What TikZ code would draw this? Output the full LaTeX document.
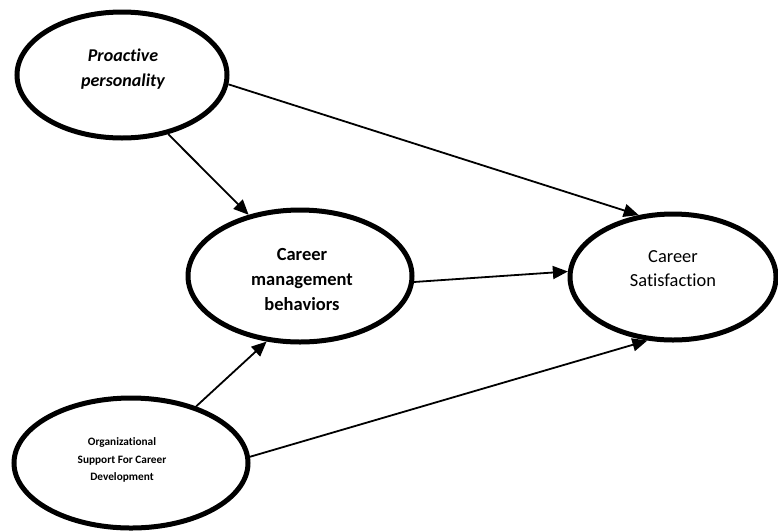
\documentclass[tikz,border=0pt]{standalone}
\usepackage{fontspec}
\setmainfont{Carlito}[Ligatures=NoCommon]
\usetikzlibrary{arrows.meta,shapes.geometric}
\begin{document}
\begin{tikzpicture}[x=1pt,y=-1pt,
  ell/.style={draw,ellipse,line width=5pt,inner sep=0pt,fill=white},
  lbl/.style={align=center,inner sep=0pt},
  arr/.style={line width=1.8pt,-{Triangle[length=15pt,width=13pt]}}]
\useasboundingbox[fill=white] (0,0) rectangle (778,531);
% ellipses
\node[ell,minimum width=210pt,minimum height=126pt] (pp) at (122,75) {};
\node[ell,minimum width=224pt,minimum height=132pt] (cmb) at (300,276) {};
\node[ell,minimum width=206pt,minimum height=126pt] (cs) at (673,277) {};
\node[ell,minimum width=234pt,minimum height=130pt] (os) at (131,463) {};
% texts
\node[lbl,font=\fontsize{18}{25}\selectfont\bfseries\itshape] (tpp) at (123,69.5) {Proactive\\personality};
\node[lbl,font=\fontsize{18.5}{25}\selectfont\bfseries] (tcmb) at (302,279) {Career\\management\\behaviors};
\node[lbl,font=\fontsize{18.4}{24}\selectfont] (tcs) at (673,269) {Career\\Satisfaction};
\node[lbl,font=\fontsize{11.3}{17.5}\selectfont\bfseries] (tos) at (122,460) {Organizational\\Support For Career\\Development};
% arrows
\draw[arr] (pp.-5.5) -- (cs.119.4);
\draw[arr] (pp.-52.5) -- (cmb.130.1);
\draw[arr] (cmb.-3.5) -- (cs.177.8);
\draw[arr] (os.41.6) -- (cmb.-117.8);
\draw[arr] (os.3.4) -- (cs.-112.4);
\end{tikzpicture}
\end{document}
